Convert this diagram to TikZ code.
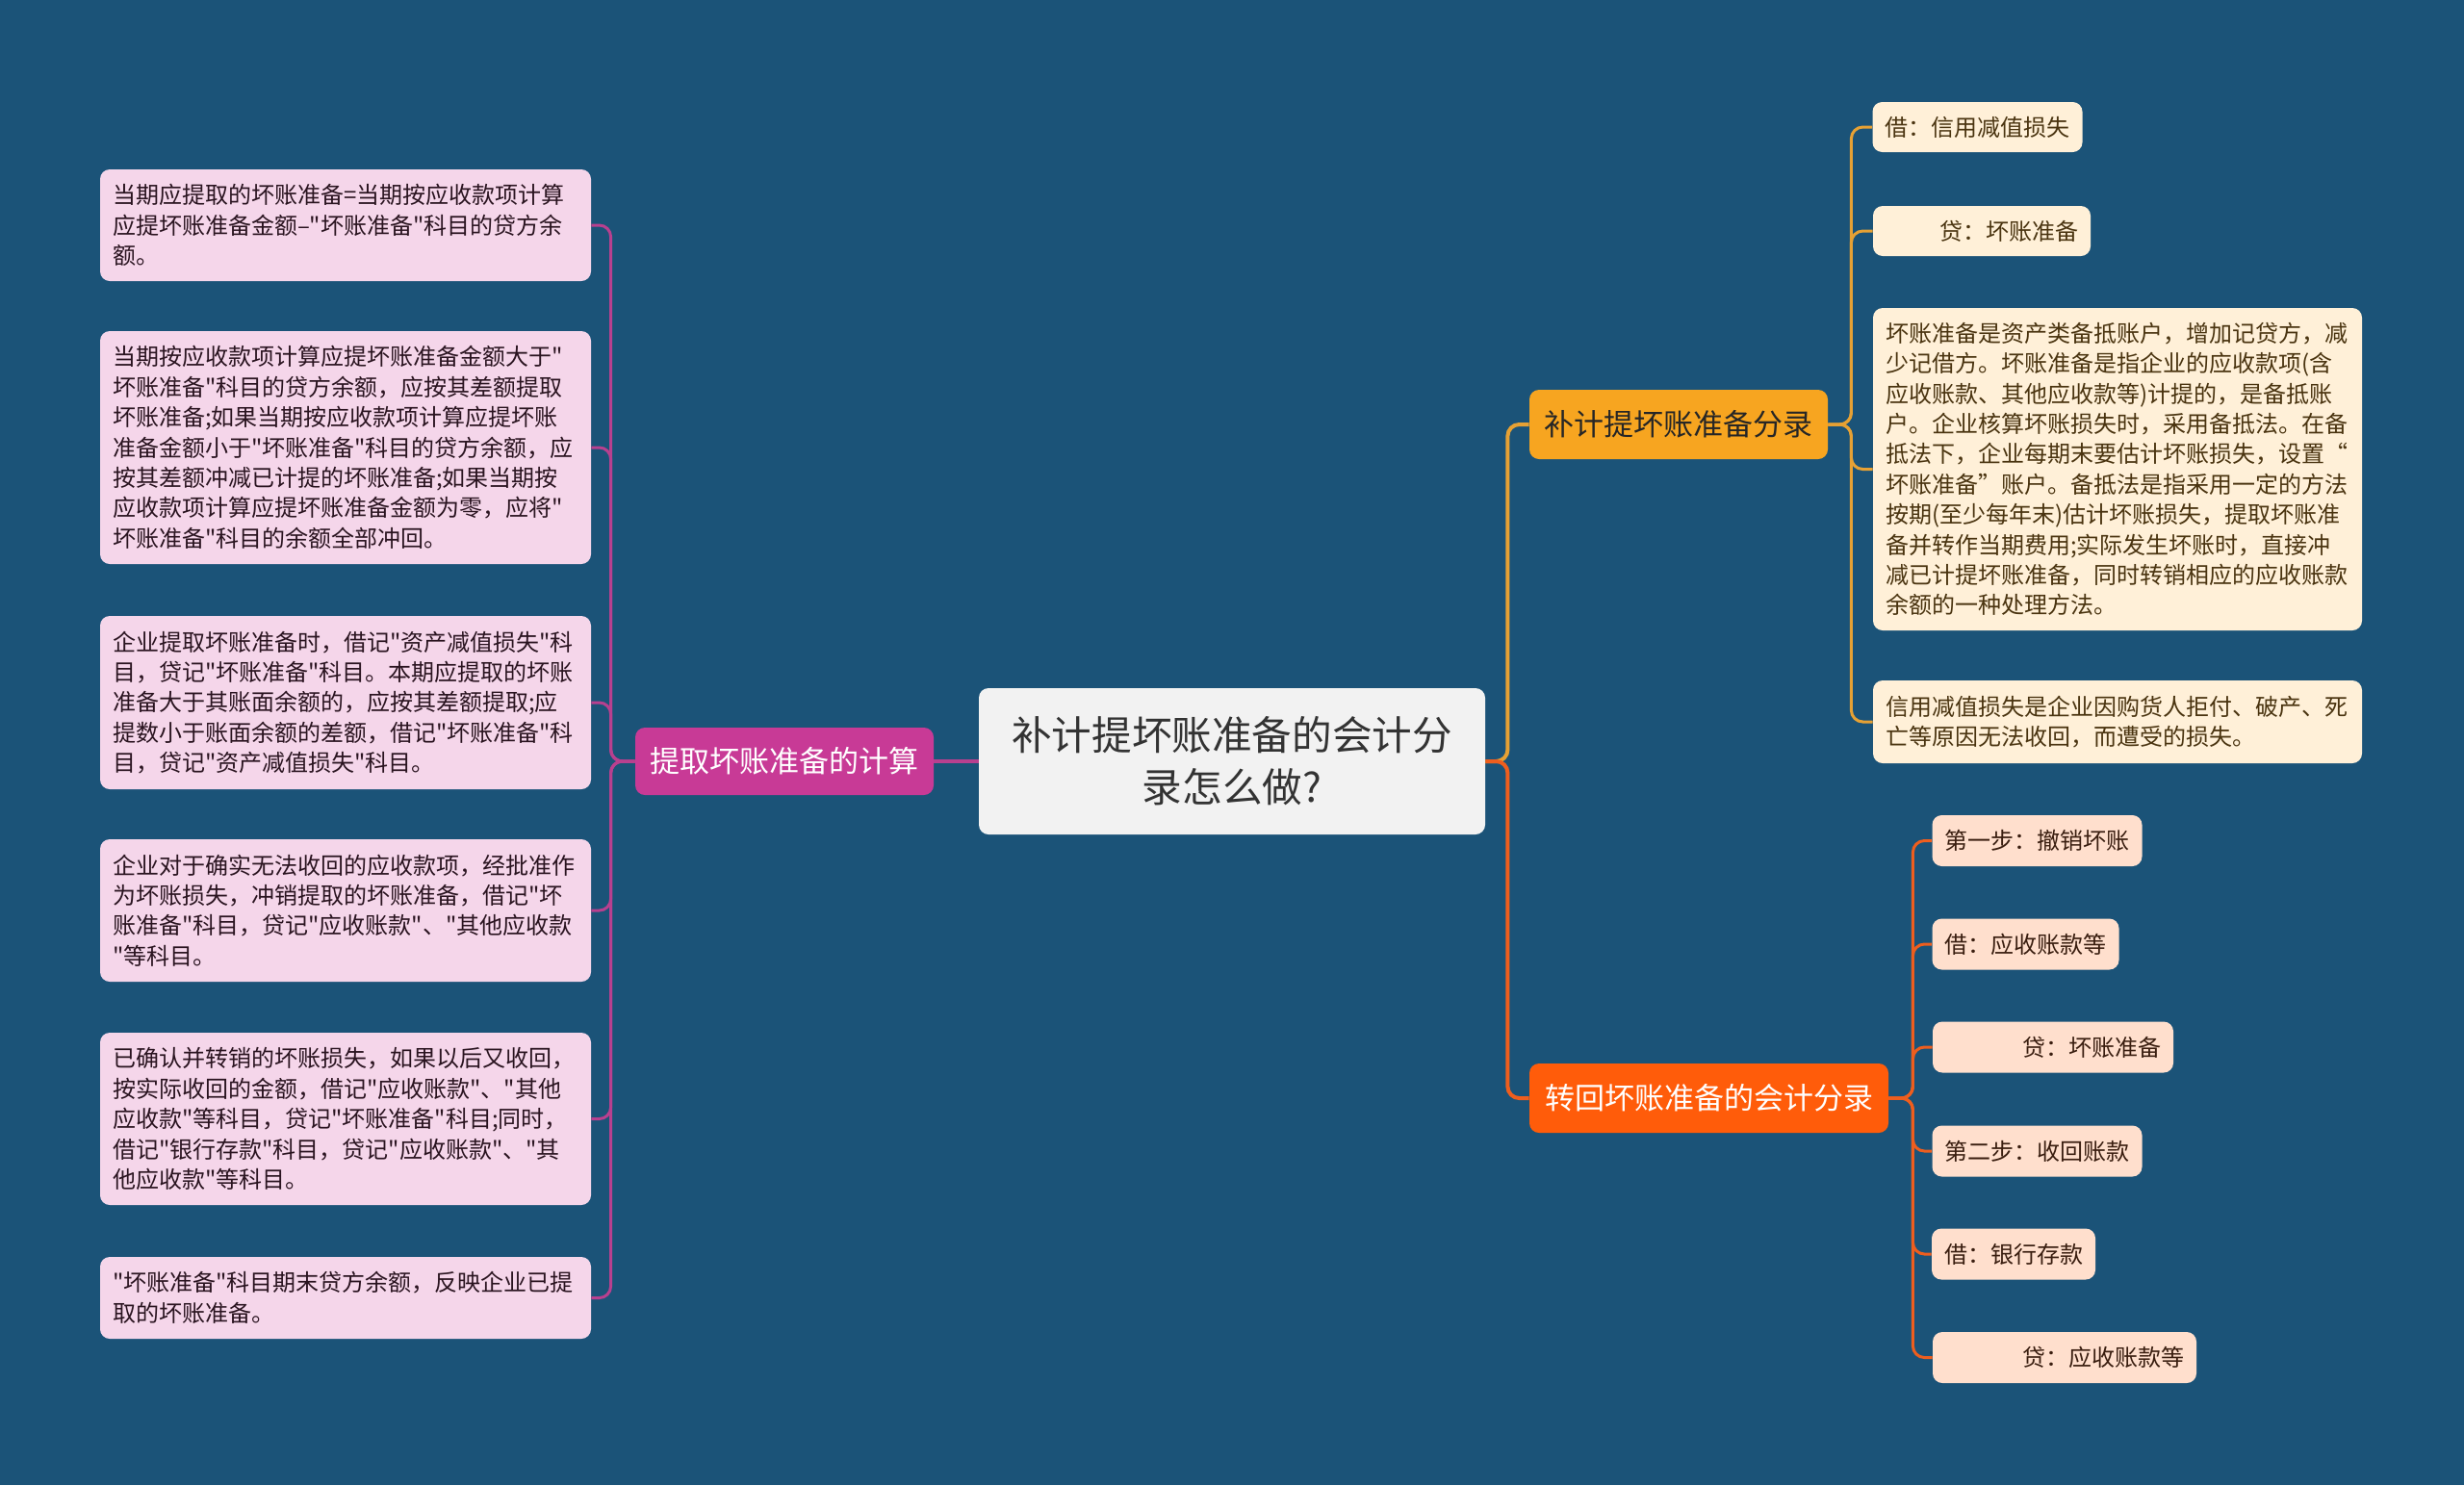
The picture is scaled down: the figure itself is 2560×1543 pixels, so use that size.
\documentclass[tikz,border=0pt]{standalone}
\usepackage{fontspec}
\newfontfamily\cjk{Noto Sans CJK SC}
\definecolor{bgcol}{HTML}{1B5378}
\definecolor{lbrfill}{HTML}{C83A96}
\definecolor{llinecol}{HTML}{B8408F}
\definecolor{tbrfill}{HTML}{F7A520}
\definecolor{tlinecol}{HTML}{E6A134}
\definecolor{bbrfill}{HTML}{FF5C0A}
\definecolor{blinecol}{HTML}{EE5E1E}
\definecolor{lleaffill}{HTML}{F5D6EA}
\definecolor{lleaftext}{HTML}{2A1420}
\definecolor{tleaffill}{HTML}{FFF0D8}
\definecolor{tleaftext}{HTML}{4A3410}
\definecolor{bleaffill}{HTML}{FFDFCD}
\definecolor{bleaftext}{HTML}{3A1E10}
\definecolor{rootfill}{HTML}{F2F2F2}
\definecolor{roottext}{HTML}{333333}
\newcommand\lffont{\cjk\fontsize{12pt}{15.7pt}\selectfont}
\newcommand\brfont{\cjk\fontsize{15.5pt}{19pt}\selectfont}
\newcommand\rtfont{\cjk\fontsize{20.8pt}{27pt}\selectfont}
\tikzset{
  boxbase/.style={rectangle, rounded corners=5pt, inner ysep=0pt},
  rootbox/.style={boxbase, fill=rootfill, text=roottext, font=\rtfont, align=center, minimum width=263pt, minimum height=76pt},
  lbranch/.style={boxbase, fill=lbrfill, text=white, font=\brfont, minimum width=155pt, minimum height=35pt},
  tbranch/.style={boxbase, fill=tbrfill, text=black!85, font=\brfont, minimum width=155pt, minimum height=36pt},
  bbranch/.style={boxbase, fill=bbrfill, text=white, font=\brfont, minimum width=186.5pt, minimum height=36pt},
  lleaf/.style={boxbase, fill=lleaffill, text=lleaftext, font=\lffont, inner xsep=6.5pt, text width=242pt, align=left},
  tleaf/.style={boxbase, fill=tleaffill, text=tleaftext, font=\lffont, inner xsep=6.5pt, minimum height=26pt},
  tlong/.style={tleaf, text width=241pt, align=left},
  bleaf/.style={boxbase, fill=bleaffill, text=bleaftext, font=\lffont, inner xsep=6.5pt, minimum height=26.5pt},
  lline/.style={draw=llinecol, line width=1.5pt, rounded corners=6pt},
  tline/.style={draw=tlinecol, line width=1.5pt, rounded corners=6pt},
  bline/.style={draw=blinecol, line width=1.5pt, rounded corners=6pt},
}
\begin{document}
\begin{tikzpicture}[x=0.5pt,y=-0.5pt]
\fill[bgcol] (0,0) rectangle (2560,1543);
\useasboundingbox (0,0) rectangle (2560,1543);

% root and branches
\node[rootbox] (root) at (1280,791) {补计提坏账准备的会计分\\录怎么做?};
\node[lbranch] (L) at (815,791) {提取坏账准备的计算};
\node[tbranch] (T) at (1744,441) {补计提坏账准备分录};
\node[bbranch] (B) at (1775.5,1141) {转回坏账准备的会计分录};

% left leaves
\node[lleaf, minimum height=58pt] (l1) at (359,234) {当期应提取的坏账准备=当期按应收款项计算\\应提坏账准备金额–"坏账准备"科目的贷方余\\额。};
\node[lleaf, minimum height=121pt] (l2) at (359,465) {当期按应收款项计算应提坏账准备金额大于"\\坏账准备"科目的贷方余额，应按其差额提取\\坏账准备;如果当期按应收款项计算应提坏账\\准备金额小于"坏账准备"科目的贷方余额，应\\按其差额冲减已计提的坏账准备;如果当期按\\应收款项计算应提坏账准备金额为零，应将"\\坏账准备"科目的余额全部冲回。};
\node[lleaf, minimum height=90pt] (l3) at (359,730) {企业提取坏账准备时，借记"资产减值损失"科\\目，贷记"坏账准备"科目。本期应提取的坏账\\准备大于其账面余额的，应按其差额提取;应\\提数小于账面余额的差额，借记"坏账准备"科\\目，贷记"资产减值损失"科目。};
\node[lleaf, minimum height=74pt] (l4) at (359,946) {企业对于确实无法收回的应收款项，经批准作\\为坏账损失，冲销提取的坏账准备，借记"坏\\账准备"科目，贷记"应收账款"、"其他应收款\\"等科目。};
\node[lleaf, minimum height=89.5pt] (l5) at (359,1162.5) {已确认并转销的坏账损失，如果以后又收回，\\按实际收回的金额，借记"应收账款"、"其他\\应收款"等科目，贷记"坏账准备"科目;同时，\\借记"银行存款"科目，贷记"应收账款"、"其\\他应收款"等科目。};
\node[lleaf, minimum height=42.5pt] (l6) at (359,1348.5) {"坏账准备"科目期末贷方余额，反映企业已提\\取的坏账准备。};

% top-right leaves
\node[tleaf, minimum width=108.5pt] (t1) at (2054.5,132) {借：信用减值损失};
\node[tleaf, text width=100pt, align=right] (t2) at (2059,240) {贷：坏账准备};
\node[tlong, minimum height=167.5pt] (t3) at (2200,487.5) {坏账准备是资产类备抵账户，增加记贷方，减\\少记借方。坏账准备是指企业的应收款项(含\\应收账款、其他应收款等)计提的，是备抵账\\户。企业核算坏账损失时，采用备抵法。在备\\抵法下，企业每期末要估计坏账损失，设置“\\坏账准备”账户。备抵法是指采用一定的方法\\按期(至少每年末)估计坏账损失，提取坏账准\\备并转作当期费用;实际发生坏账时，直接冲\\减已计提坏账准备，同时转销相应的应收账款\\余额的一种处理方法。};
\node[tlong, minimum height=43pt] (t4) at (2200,750) {信用减值损失是企业因购货人拒付、破产、死\\亡等原因无法收回，而遭受的损失。};

% bottom-right leaves
\node[bleaf, minimum width=108.5pt] (b1) at (2116.5,873.5) {第一步：撤销坏账};
\node[bleaf, minimum width=96.5pt] (b2) at (2104.5,981) {借：应收账款等};
\node[bleaf, text width=112pt, align=right] (b3) at (2133,1088) {贷：坏账准备};
\node[bleaf, minimum width=108.5pt] (b4) at (2116.5,1196) {第二步：收回账款};
\node[bleaf, minimum width=84pt] (b5) at (2092,1303) {借：银行存款};
\node[bleaf, text width=124pt, align=right] (b6) at (2145,1410.5) {贷：应收账款等};

% connectors
\draw[lline, line width=2pt] (root.west) -- (L.east);
\foreach \n in {l1,l2,l3,l4,l5,l6} \draw[lline] (L.west) -- ++(-25,0) |- (\n.east);
\draw[tline, line width=2pt] (root.east) -- ++(23,0) |- (T.west);
\draw[bline, line width=2pt] (root.east) -- ++(23,0) |- (B.west);
\foreach \n in {t1,t2,t3,t4} \draw[tline] (T.east) -- ++(24,0) |- (\n.west);
\foreach \n in {b1,b2,b3,b4,b5,b6} \draw[bline] (B.east) -- ++(25,0) |- (\n.west);
\end{tikzpicture}
\end{document}
